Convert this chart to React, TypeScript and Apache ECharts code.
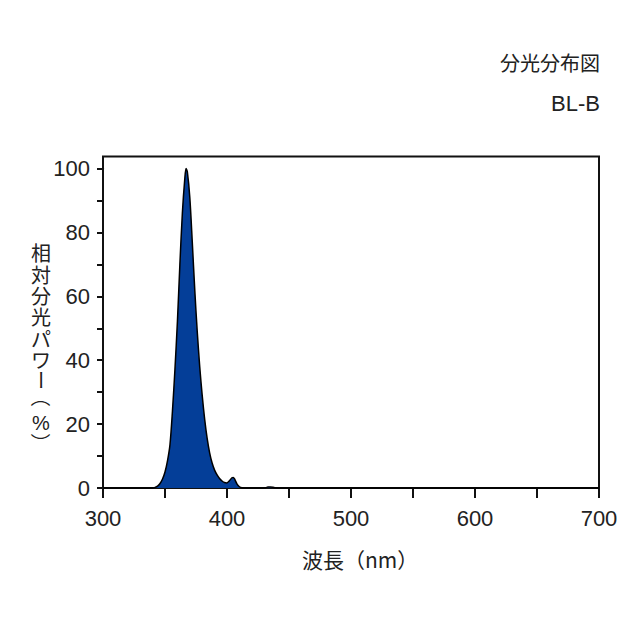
import React, { useEffect, useRef } from "react";
import * as echarts from "echarts";

const titleMain = "分光分布図";
const titleSub = "BL-B";
const xName = "波長（nm）";
const yNameUpright = "相対分光パワ";
const yNameDash = "ー";
const yNameOpen = "（";
const yNamePct = "%";
const yNameClose = "）";

const wavelengths = [
  300, 338, 340, 342, 344, 346, 348, 350, 352, 354, 356, 358, 360, 362, 364, 366, 367, 368, 370,
  372, 374, 376, 378, 380, 382, 384, 386, 388, 390, 392, 394, 396, 398, 400, 402, 404, 405, 406,
  408, 410, 412, 414, 428, 431, 433, 435, 437, 439, 442, 700,
];
const powers = [
  0, 0, 0, 0.2, 0.6, 1.4, 2.8, 5, 8.5, 13.5, 24, 37, 52, 70, 86, 97, 100, 99, 91,
  77, 62, 49, 38, 29, 21.5, 15.5, 11, 7.8, 5.6, 4.1, 3.0, 2.2, 1.7, 1.6, 2.3, 3.2, 3.3, 2.9,
  1.3, 0.4, 0.05, 0, 0, 0.1, 0.3, 0.35, 0.25, 0.05, 0, 0,
];

const xTicks = { min: 300, max: 700, interval: 50, labelStep: 100 };
const yTicks = { min: 0, max: 100, interval: 10, labelStep: 20 };

export default function App() {
  const ref = useRef<HTMLDivElement>(null);
  useEffect(() => {
    if (!ref.current) return;
    const chart = echarts.init(ref.current, undefined, { renderer: "svg" });
    const txt = "#222";
    const numFont = "'Liberation Sans', Arial, sans-serif";
    const cjkFont = "'Noto Sans CJK JP', sans-serif";
    const data = wavelengths.map((w, i) => [w, powers[i]]);

    const nameX = 41;
    const charStep = 21.4;
    const yNameGraphics: any[] = [
      {
        type: "text",
        x: nameX,
        y: 242,
        style: {
          text: yNameUpright.split("").join("\n"),
          fontSize: 20,
          lineHeight: charStep,
          fontFamily: cjkFont,
          fill: txt,
          align: "center",
          verticalAlign: "top",
        },
      },
      {
        type: "text",
        x: nameX,
        y: 380,
        rotation: -Math.PI / 2,
        style: {
          text: yNameDash, fontSize: 20, fontFamily: cjkFont, fill: txt,
          align: "center", verticalAlign: "middle",
        },
      },
      {
        type: "text",
        x: nameX,
        y: 397,
        rotation: -Math.PI / 2,
        style: {
          text: yNameOpen, fontSize: 20, fontFamily: cjkFont, fill: txt,
          align: "center", verticalAlign: "middle",
        },
      },
      {
        type: "text",
        x: nameX,
        y: 423,
        style: {
          text: yNamePct, fontSize: 20, fontFamily: numFont, fill: txt,
          align: "center", verticalAlign: "middle",
        },
      },
      {
        type: "text",
        x: nameX,
        y: 443,
        rotation: -Math.PI / 2,
        style: {
          text: yNameClose, fontSize: 20, fontFamily: cjkFont, fill: txt,
          align: "center", verticalAlign: "middle",
        },
      },
    ];

    chart.setOption({
      animation: false,
      grid: [
        { left: 103, right: 41, top: 168.5, bottom: 152, show: false },
        {
          left: 103, right: 41, top: 156.5, bottom: 152, show: true,
          borderColor: "#111", borderWidth: 2, backgroundColor: "transparent",
        },
      ],
      xAxis: [
        {
          type: "value",
          gridIndex: 0,
          min: xTicks.min,
          max: xTicks.max,
          interval: xTicks.interval,
          axisLine: { show: true, lineStyle: { color: "#111", width: 2 } },
          axisTick: { show: true, inside: false, length: 10, lineStyle: { color: "#111", width: 2 } },
          splitLine: { show: false },
          axisLabel: {
            margin: 19,
            fontSize: 22,
            fontFamily: numFont,
            color: txt,
            formatter: (v: number) => (v % xTicks.labelStep === 0 ? String(v) : ""),
          },
        },
        { type: "value", gridIndex: 1, show: false, min: 0, max: 1 },
      ],
      yAxis: [
        {
          type: "value",
          gridIndex: 0,
          min: yTicks.min,
          max: yTicks.max,
          interval: yTicks.interval,
          axisLine: { show: true, lineStyle: { color: "#111", width: 2 } },
          axisTick: { show: true, inside: false, length: 6, lineStyle: { color: "#111", width: 2 } },
          splitLine: { show: false },
          axisLabel: {
            margin: 13,
            fontSize: 22,
            fontFamily: numFont,
            color: txt,
            formatter: (v: number) => (v % yTicks.labelStep === 0 ? String(v) : ""),
          },
        },
        { type: "value", gridIndex: 1, show: false, min: 0, max: 1 },
      ],
      series: [
        {
          type: "line",
          xAxisIndex: 0,
          yAxisIndex: 0,
          data,
          smooth: 0.3,
          showSymbol: false,
          clip: false,
          lineStyle: { color: "#000", width: 1.5 },
          areaStyle: { color: "#043e98", opacity: 1 },
          z: 3,
        },
      ],
      graphic: [
        {
          type: "text",
          x: 600,
          y: 62.5,
          style: {
            text: titleMain, fontSize: 20, fontFamily: cjkFont, fill: txt,
            align: "right", verticalAlign: "middle",
          },
        },
        {
          type: "text",
          x: 600,
          y: 103.5,
          style: {
            text: titleSub, fontSize: 22, fontFamily: numFont, fill: txt,
            align: "right", verticalAlign: "middle",
          },
        },
        {
          type: "text",
          x: 302,
          y: 559,
          style: {
            text: xName, fontSize: 21, fontFamily: cjkFont, fill: txt,
            align: "left", verticalAlign: "middle",
          },
        },
        ...yNameGraphics,
      ],
    });
    return () => chart.dispose();
  }, []);
  return (
    <div
      ref={ref}
      style={{ position: "fixed", left: 0, top: 0, width: 640, height: 640, background: "#fff" }}
    />
  );
}
